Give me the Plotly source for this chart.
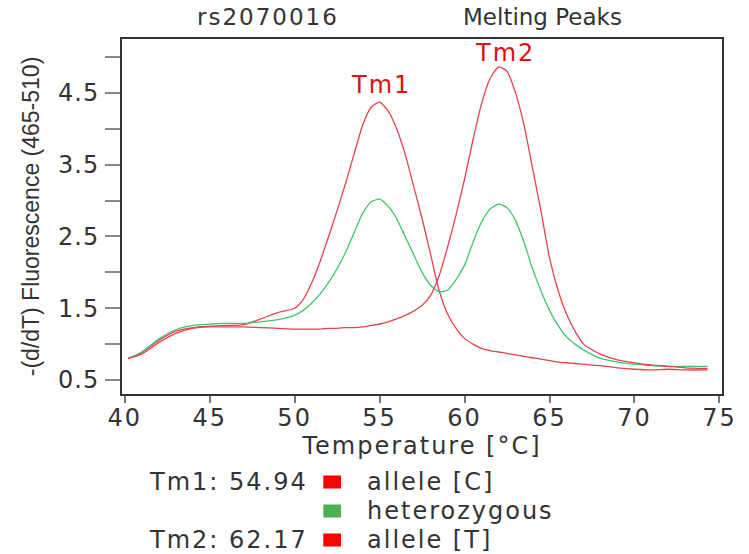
import plotly.graph_objects as go

# ---------------- data ----------------
temperature = [40.2, 41, 42, 43, 44, 45, 46, 47, 48, 49, 50, 50.5, 51, 51.5, 52, 52.5,
               53, 53.5, 54, 54.5, 55, 55.5, 56, 56.5, 57, 57.5, 58, 58.5, 59, 59.5,
               60, 60.5, 61, 61.5, 62, 62.5, 63, 63.5, 64, 64.5, 65, 65.5, 66, 66.5,
               67, 68, 69, 70, 71, 72, 73, 74.3]

allele_c = [0.80, 0.88, 1.05, 1.18, 1.23, 1.25, 1.26, 1.27, 1.35, 1.44, 1.50, 1.62,
            1.85, 2.15, 2.50, 2.86, 3.24, 3.65, 4.05, 4.30, 4.37, 4.25, 4.00, 3.65,
            3.20, 2.75, 2.25, 1.75, 1.42, 1.22, 1.08, 1.00, 0.94, 0.91, 0.89, 0.87,
            0.85, 0.83, 0.81, 0.79, 0.77, 0.75, 0.74, 0.73, 0.72, 0.70, 0.67, 0.65,
            0.64, 0.65, 0.64, 0.64]

heterozygous = [0.80, 0.89, 1.07, 1.20, 1.26, 1.28, 1.29, 1.29, 1.31, 1.34, 1.40, 1.47,
                1.57, 1.70, 1.86, 2.05, 2.28, 2.55, 2.82, 2.98, 3.02, 2.92, 2.75, 2.50,
                2.25, 2.00, 1.82, 1.73, 1.75, 1.90, 2.10, 2.42, 2.70, 2.88, 2.95, 2.90,
                2.72, 2.42, 2.05, 1.74, 1.47, 1.26, 1.10, 1.00, 0.92, 0.80, 0.75, 0.72,
                0.70, 0.69, 0.69, 0.69]

allele_t = [0.80, 0.86, 1.02, 1.15, 1.22, 1.24, 1.24, 1.24, 1.23, 1.22, 1.21, 1.21,
            1.21, 1.21, 1.22, 1.22, 1.23, 1.23, 1.24, 1.26, 1.28, 1.31, 1.35, 1.40,
            1.46, 1.54, 1.68, 1.95, 2.35, 2.80, 3.30, 3.85, 4.35, 4.70, 4.86, 4.80,
            4.50, 4.05, 3.45, 2.85, 2.20, 1.75, 1.42, 1.18, 1.00, 0.86, 0.78, 0.74,
            0.71, 0.69, 0.67, 0.66]

series_names = ["allele [C]", "heterozygous", "allele [T]"]
tm_labels = ["Tm1", "Tm2"]
tm_values = [54.94, 62.17]

x_ticks = [40, 45, 50, 55, 60, 65, 70, 75]
y_ticks = [0.5, 1.0, 1.5, 2.0, 2.5, 3.0, 3.5, 4.0, 4.5, 5.0]
y_tick_labels = ["0.5", "", "1.5", "", "2.5", "", "3.5", "", "4.5", ""]

# ---------------- style ----------------
W, H = 749, 554
L, R, T, B = 122, 16, 39, 160
PW, PH = W - L - R, H - T - B
FONT = "DejaVu Sans"
FS = 24
TXT = "#333333"
RED_LINE = "#e2444f"
GREEN_LINE = "#3ec66e"
RED_KEY = "#ff0000"
GREEN_KEY = "#4caf50"
TM_RED = "#dd1111"


def sp(s, ls=2):
    return f'<span style="letter-spacing:{ls}px">{s}</span>' if s else ""


def px_x(px):
    return (px - L) / PW


def px_y(py):
    return (T + PH - py) / PH


fig = go.Figure()
line_colors = [RED_LINE, GREEN_LINE, RED_LINE]
for name, vals, col in zip(series_names, [allele_c, heterozygous, allele_t], line_colors):
    fig.add_trace(go.Scatter(x=temperature, y=vals, mode="lines", name=name,
                             line=dict(color=col, width=1.3, shape="spline", smoothing=0.6),
                             showlegend=False, hoverinfo="skip"))

fig.update_layout(
    width=W, height=H, autosize=False,
    margin=dict(l=L, r=R, t=T, b=B),
    paper_bgcolor="white", plot_bgcolor="white",
    font=dict(family=FONT, size=FS, color=TXT),
    showlegend=False,
)

fig.update_xaxes(
    range=[39.84, 75.15], tickvals=x_ticks, ticktext=[sp(str(v)) for v in x_ticks],
    ticks="outside", ticklen=7, tickwidth=1.5, tickcolor="#777777",
    showline=True, mirror=True, linecolor="#333333", linewidth=2,
    showgrid=False, zeroline=False, ticklabelstandoff=-6,
    tickfont=dict(family=FONT, size=FS, color=TXT),
    title=dict(text=sp("Temperature [°C]"), standoff=0,
               font=dict(family=FONT, size=FS, color=TXT)),
)
fig.update_yaxes(
    range=[0.305, 5.25], tickvals=y_ticks, ticktext=[sp(s, 1) for s in y_tick_labels],
    ticks="outside", ticklen=15, tickwidth=1.5, tickcolor="#888888",
    showline=True, mirror=True, linecolor="#333333", linewidth=2,
    showgrid=False, zeroline=False, ticklabelstandoff=1,
    tickfont=dict(family=FONT, size=FS, color=TXT),
    title=dict(text="-(d/dT) Fluorescence (465-510)", standoff=12,
               font=dict(family="Liberation Sans", size=23, color=TXT)),
)

# Tm labels above the peaks
for lab, tm, vals, ysh, xsh in zip(tm_labels, tm_values, [allele_c, allele_t], [1, -2], [2, 4]):
    fig.add_annotation(x=tm, y=max(vals), xref="x", yref="y", text=sp(lab, 2),
                       showarrow=False, yanchor="bottom", yshift=ysh, xshift=xsh,
                       font=dict(family=FONT, size=FS, color=TM_RED))

# header texts
fig.add_annotation(x=px_x(196), y=px_y(17), xref="paper", yref="paper", text=sp("rs2070016"),
                   showarrow=False, xanchor="left", yanchor="middle",
                   font=dict(family=FONT, size=FS - 1, color=TXT))
fig.add_annotation(x=px_x(467), y=px_y(17), xref="paper", yref="paper", text="Melting Peaks",
                   showarrow=False, xanchor="left", yanchor="middle",
                   font=dict(family=FONT, size=FS - 1, color=TXT))

# legend block
rows_y = [482, 511, 540]
row_prefix = [f"Tm1: {tm_values[0]:.2f}", "", f"Tm2: {tm_values[1]:.2f}"]
key_colors = [RED_KEY, GREEN_KEY, RED_KEY]
for yy, pre, name, kc in zip(rows_y, row_prefix, series_names, key_colors):
    if pre:
        fig.add_annotation(x=px_x(313), y=px_y(yy), xref="paper", yref="paper", text=sp(pre),
                           showarrow=False, xanchor="right", yanchor="middle",
                           font=dict(family=FONT, size=FS, color=TXT))
    fig.add_shape(type="rect", xref="paper", yref="paper",
                  x0=px_x(327), x1=px_x(345), y0=px_y(yy + 6.5), y1=px_y(yy - 6.5),
                  fillcolor=kc, line=dict(width=0))
    fig.add_annotation(x=px_x(369), y=px_y(yy), xref="paper", yref="paper", text=sp(name),
                       showarrow=False, xanchor="left", yanchor="middle",
                       font=dict(family=FONT, size=FS, color=TXT))

fig.write_html("out.html")
